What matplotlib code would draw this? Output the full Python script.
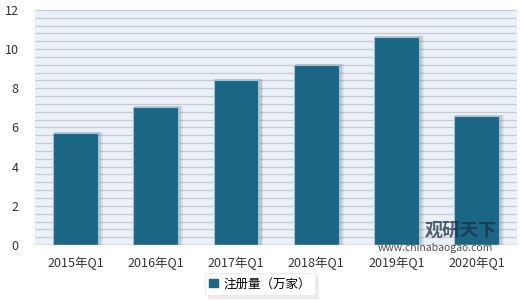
import matplotlib.pyplot as plt
import numpy as np
from matplotlib.patches import Rectangle

plt.rcParams['font.family'] = ['Noto Sans CJK SC', 'DejaVu Sans']

categories = ['2015年Q1', '2016年Q1', '2017年Q1', '2018年Q1', '2019年Q1', '2020年Q1']
values = [5.7, 7.05, 8.4, 9.2, 10.6, 6.6]
series_name = '注册量（万家）'

fig = plt.figure(figsize=(5.2, 3.01), dpi=100)
ax = fig.add_axes([0.068, 0.186, 0.926, 0.781])

x = np.arange(len(categories))
w = 0.56

# soft shadow behind the bars
for dx, a in [(0.025, 0.18), (0.045, 0.1)]:
    ax.bar(x + dx, np.array(values) + 0.1, width=w + 0.03, bottom=-0.05,
           color='#555555', alpha=a, zorder=2, linewidth=0)
ax.bar(x, values, width=w, color='#1b6585', edgecolor='#9fc3d6',
       linewidth=0.8, zorder=3)

ax.set_facecolor('#eaf1f8')
ax.set_xlim(-0.5, 5.5)
ax.set_ylim(0, 12)
ax.set_yticks(range(0, 13, 2))
ax.set_yticks(np.arange(0, 12.01, 0.4), minor=True)
ax.yaxis.grid(True, which='both', color='#c8ccd0', linewidth=0.9, zorder=0)
ax.set_axisbelow(True)
ax.tick_params(axis='y', which='both', length=0, labelsize=9, colors='#333333', pad=12)
ax.tick_params(axis='x', length=0, labelsize=9, colors='#333333', pad=8)
ax.set_xticks(x)
ax.set_xticklabels(categories)
for s in ax.spines.values():
    s.set_visible(False)
ax.axhline(0, color='#bbbbbb', linewidth=1, zorder=4)

# watermark
fig.text(0.885, 0.236, '观研天下', fontsize=13, fontweight='bold', color='#1f2f4a',
         alpha=0.75, ha='center', va='center')
fig.text(0.838, 0.176, 'www.chinabaogao.com', fontsize=7.5, color='#222222',
         alpha=0.8, ha='center', va='center')

leg = fig.legend([Rectangle((0, 0), 1, 1, color='#1b6585')], [series_name],
                 loc='lower center', bbox_to_anchor=(0.5, 0.0), ncol=1,
                 frameon=True, fontsize=9, handlelength=0.7, handleheight=0.7,
                 handletextpad=0.4, borderpad=0.35, fancybox=False, shadow={'color': '#dddddd'})
leg.get_frame().set_edgecolor('#e4e4e4')
leg.get_frame().set_linewidth(0.5)

fig.savefig('out.png', dpi=100)
